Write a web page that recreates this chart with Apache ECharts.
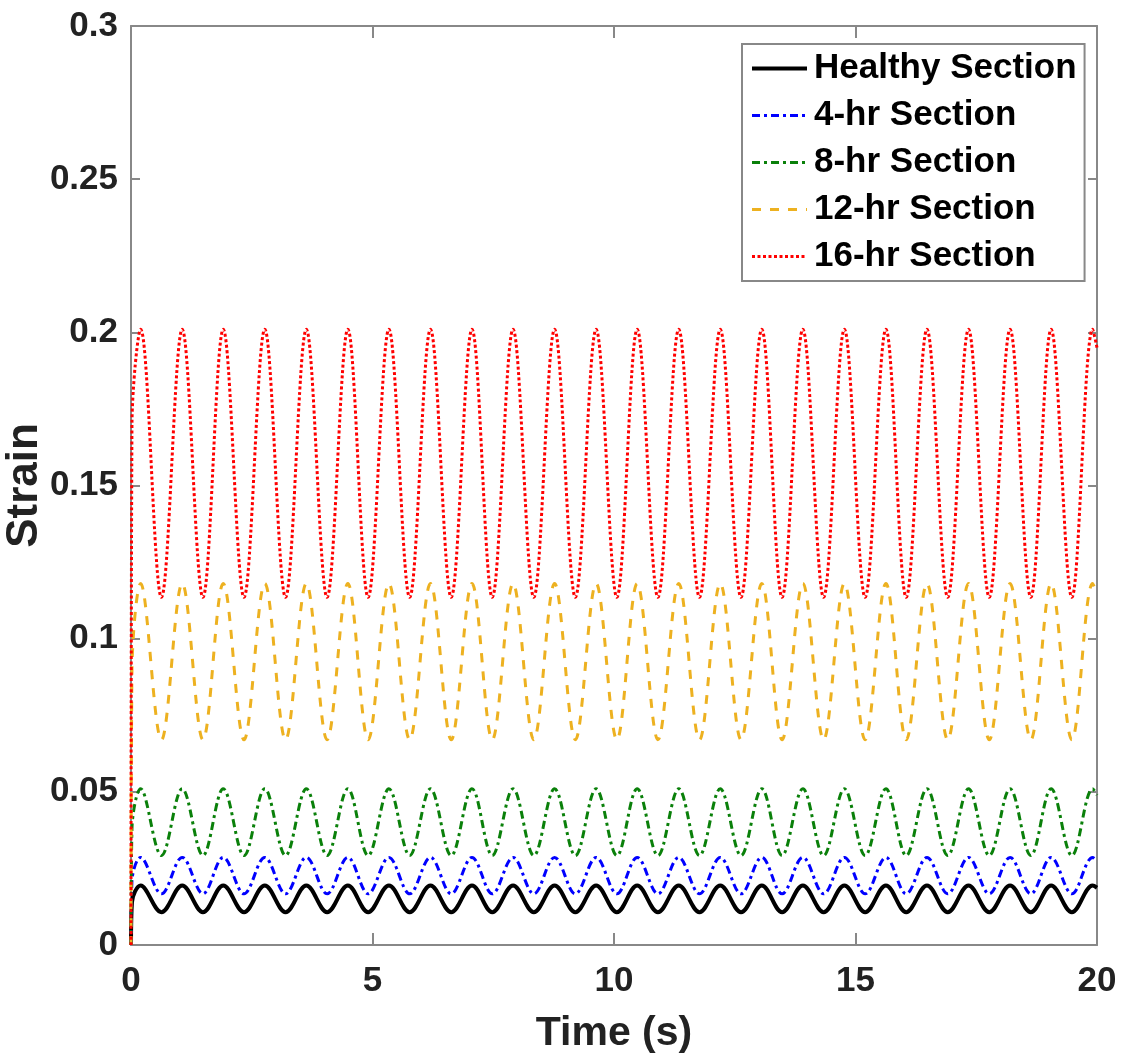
<!DOCTYPE html>
<html><head><meta charset="utf-8">
<script src="https://cdn.jsdelivr.net/npm/echarts@6/dist/echarts.min.js"></script>
<style>html,body{margin:0;padding:0;background:#fff}#c{width:1122px;height:1059px}</style>
</head><body><div id="c"></div>
<script>
// Time points (s): start, peaks and troughs, end
const time = [0, 0.02, 0.2, 0.63, 1.06, 1.49, 1.91, 2.34, 2.77, 3.2, 3.63, 4.06, 4.49, 4.91, 5.34, 5.77, 6.2, 6.63, 7.06, 7.48, 7.91, 8.34, 8.77, 9.2, 9.63, 10.06, 10.48, 10.91, 11.34, 11.77, 12.2, 12.63, 13.06, 13.48, 13.91, 14.34, 14.77, 15.2, 15.63, 16.05, 16.48, 16.91, 17.34, 17.77, 18.2, 18.63, 19.05, 19.48, 19.91, 20];

const healthy = [0, 0.014, 0.0194, 0.0107, 0.0194, 0.0107, 0.0194, 0.0107, 0.0194, 0.0107, 0.0194, 0.0107, 0.0194, 0.0107, 0.0194, 0.0107, 0.0194, 0.0107, 0.0194, 0.0107, 0.0194, 0.0107, 0.0194, 0.0107, 0.0194, 0.0107, 0.0194, 0.0107, 0.0194, 0.0107, 0.0194, 0.0107, 0.0194, 0.0107, 0.0194, 0.0107, 0.0194, 0.0107, 0.0194, 0.0107, 0.0194, 0.0107, 0.0194, 0.0107, 0.0194, 0.0107, 0.0194, 0.0107, 0.0194, 0.0187];
const hr4 = [0, 0.021, 0.0286, 0.0167, 0.0286, 0.0167, 0.0286, 0.0167, 0.0286, 0.0167, 0.0286, 0.0167, 0.0286, 0.0167, 0.0286, 0.0167, 0.0286, 0.0167, 0.0286, 0.0167, 0.0286, 0.0167, 0.0286, 0.0167, 0.0286, 0.0167, 0.0286, 0.0167, 0.0286, 0.0167, 0.0286, 0.0167, 0.0286, 0.0167, 0.0286, 0.0167, 0.0286, 0.0167, 0.0286, 0.0167, 0.0286, 0.0167, 0.0286, 0.0167, 0.0286, 0.0167, 0.0286, 0.0167, 0.0286, 0.0275];
const hr8 = [0, 0.038, 0.051, 0.0292, 0.051, 0.0292, 0.051, 0.0292, 0.051, 0.0292, 0.051, 0.0292, 0.051, 0.0292, 0.051, 0.0292, 0.051, 0.0292, 0.051, 0.0292, 0.051, 0.0292, 0.051, 0.0292, 0.051, 0.0292, 0.051, 0.0292, 0.051, 0.0292, 0.051, 0.0292, 0.051, 0.0292, 0.051, 0.0292, 0.051, 0.0292, 0.051, 0.0292, 0.051, 0.0292, 0.051, 0.0292, 0.051, 0.0292, 0.051, 0.0292, 0.051, 0.0490];
const hr12 = [0, 0.09, 0.118, 0.067, 0.118, 0.067, 0.118, 0.067, 0.118, 0.067, 0.118, 0.067, 0.118, 0.067, 0.118, 0.067, 0.118, 0.067, 0.118, 0.067, 0.118, 0.067, 0.118, 0.067, 0.118, 0.067, 0.118, 0.067, 0.118, 0.067, 0.118, 0.067, 0.118, 0.067, 0.118, 0.067, 0.118, 0.067, 0.118, 0.067, 0.118, 0.067, 0.118, 0.067, 0.118, 0.067, 0.118, 0.067, 0.118, 0.1145];
const hr16 = [0, 0.17, 0.201, 0.1135, 0.201, 0.1135, 0.201, 0.1135, 0.201, 0.1135, 0.201, 0.1135, 0.201, 0.1135, 0.201, 0.1135, 0.201, 0.1135, 0.201, 0.1135, 0.201, 0.1135, 0.201, 0.1135, 0.201, 0.1135, 0.201, 0.1135, 0.201, 0.1135, 0.201, 0.1135, 0.201, 0.1135, 0.201, 0.1135, 0.201, 0.1135, 0.201, 0.1135, 0.201, 0.1135, 0.201, 0.1135, 0.201, 0.1135, 0.201, 0.1135, 0.201, 0.195];

const names = ['Healthy Section', '4-hr Section', '8-hr Section', '12-hr Section', '16-hr Section'];
const xTicks = [0, 5, 10, 15, 20];
const yTicks = [0, 0.05, 0.1, 0.15, 0.2, 0.25, 0.3];

const FONT = '"Liberation Sans", Arial, Helvetica, sans-serif';
const AX = '#888888';

function pairs(v) { return time.map((t, i) => [t, v[i]]); }

const styles = [
  { color: '#000000', width: 4, type: 'solid' },
  { color: '#0000ff', width: 3, type: [8, 4, 3, 4] },
  { color: '#0a800a', width: 3, type: [8, 4, 3, 4] },
  { color: '#edb120', width: 3, type: [9, 9] },
  { color: '#ff0000', width: 3, type: [3, 2.5] }
];
const vals = [healthy, hr4, hr8, hr12, hr16];

const chart = echarts.init(document.getElementById('c'), null, { renderer: 'canvas' });
const axisCommon = {
  axisLine: { show: true, onZero: false, lineStyle: { color: AX, width: 2 } },
  splitLine: { show: false },
  minorTick: { show: false }
};
chart.setOption({
  animation: false,
  backgroundColor: '#ffffff',
  grid: { left: 131, right: 25, top: 26, bottom: 114, containLabel: false, outerBoundsMode: 'none' },
  legend: {
    orient: 'vertical',
    left: 742, top: 44,
    padding: [4, 8, 4, 8],
    itemWidth: 55, itemHeight: 4, itemGap: 6,
    backgroundColor: '#ffffff',
    borderColor: AX, borderWidth: 2, borderRadius: 0,
    itemStyle: { color: 'rgba(0,0,0,0)', borderWidth: 0, opacity: 0 },
    textStyle: { fontFamily: FONT, fontWeight: 'bold', fontSize: 35, color: '#000', lineHeight: 41, padding: [0, 0, 0, 2] },
    data: names.map((n, i) => ({ name: n, lineStyle: { width: styles[i].width, color: styles[i].color, type: styles[i].type } }))
  },
  xAxis: [
    Object.assign({
      type: 'value', min: xTicks[0], max: xTicks[xTicks.length - 1], interval: 5, position: 'bottom',
      name: 'Time (s)', nameLocation: 'middle', nameGap: 68, nameMoveOverlap: false,
      nameTextStyle: { fontFamily: FONT, fontWeight: 'bold', fontSize: 41, color: '#222' },
      axisTick: { show: true, inside: true, length: 12, lineStyle: { color: AX, width: 2 } },
      axisLabel: { fontFamily: FONT, fontWeight: 'bold', fontSize: 35, color: '#222', margin: 19,
        formatter: v => xTicks.includes(v) ? String(v) : '' }
    }, axisCommon),
    Object.assign({
      type: 'value', min: 0, max: 20, interval: 5, position: 'top',
      axisTick: { show: true, inside: true, length: 12, lineStyle: { color: AX, width: 2 } },
      axisLabel: { show: false }
    }, axisCommon)
  ],
  yAxis: [
    Object.assign({
      type: 'value', min: yTicks[0], max: yTicks[yTicks.length - 1], interval: 0.05, position: 'left',
      name: 'Strain', nameLocation: 'middle', nameGap: 84, nameRotate: 90, nameMoveOverlap: false,
      nameTextStyle: { fontFamily: FONT, fontWeight: 'bold', fontSize: 44, color: '#222' },
      axisTick: { show: true, inside: true, length: 9, lineStyle: { color: AX, width: 2 } },
      axisLabel: { fontFamily: FONT, fontWeight: 'bold', fontSize: 35, color: '#222', margin: 13,
        formatter: v => { const r = Math.round(v * 100) / 100; return String(r); } }
    }, axisCommon),
    Object.assign({
      type: 'value', min: 0, max: 0.3, interval: 0.05, position: 'right',
      axisTick: { show: true, inside: true, length: 9, lineStyle: { color: AX, width: 2 } },
      axisLabel: { show: false }
    }, axisCommon)
  ],
  series: names.map((n, i) => ({
    name: n, type: 'line', xAxisIndex: 0, yAxisIndex: 0,
    data: pairs(vals[i]), smooth: 0.36, symbol: 'none', showSymbol: false,
    lineStyle: { color: styles[i].color, width: styles[i].width, type: styles[i].type, cap: 'butt' },
    itemStyle: { color: styles[i].color },
    z: 2 + i
  }))
});
</script></body></html>
